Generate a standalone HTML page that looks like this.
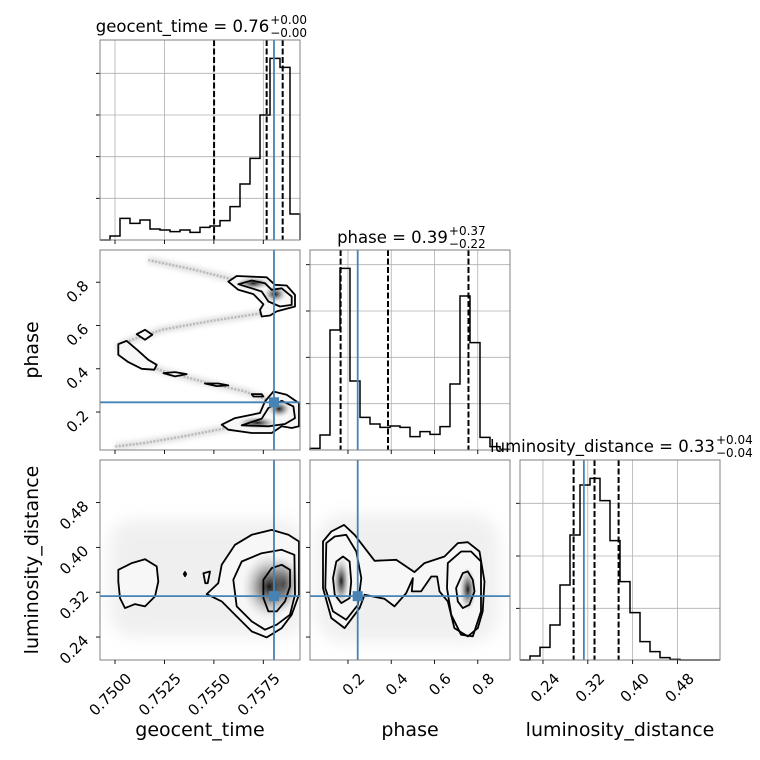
<!DOCTYPE html>
<html><head><meta charset="utf-8">
<style>
html,body{margin:0;padding:0;background:#fff;}
svg{display:block;font-family:"DejaVu Sans","Liberation Sans",sans-serif;}
</style></head>
<body>
<svg id="c" width="760" height="760" viewBox="0 0 760 760" xmlns="http://www.w3.org/2000/svg">
<defs>
<filter id="blur3" x="-20%" y="-20%" width="140%" height="140%"><feGaussianBlur stdDeviation="2.5"/></filter>
<filter id="blur6" x="-30%" y="-30%" width="160%" height="160%"><feGaussianBlur stdDeviation="8"/></filter>
<radialGradient id="core"><stop offset="0" stop-color="#000" stop-opacity="0.9"/><stop offset="0.45" stop-color="#666" stop-opacity="0.6"/><stop offset="1" stop-color="#ccc" stop-opacity="0"/></radialGradient>
<clipPath id="cl11"><rect x="100" y="250" width="200" height="200"/></clipPath>
<clipPath id="cl20"><rect x="100" y="460" width="200" height="200"/></clipPath>
<clipPath id="cl21"><rect x="310" y="460" width="200" height="200"/></clipPath>
</defs>
</svg>
<script>
// ---------- data ----------
const geoRange = [0.749241, 0.759356];
const phaseRange = [0.0245, 0.949];
const lumRange = [0.199, 0.556];
const geoTicks = [0.7500, 0.7525, 0.7550, 0.7575];
const geoTickLabels = ["0.7500", "0.7525", "0.7550", "0.7575"];
const phaseTicks = [0.2, 0.4, 0.6, 0.8];
const phaseTickLabels = ["0.2", "0.4", "0.6", "0.8"];
const lumTicks = [0.24, 0.32, 0.40, 0.48];
const lumTickLabels = ["0.24", "0.32", "0.40", "0.48"];
const geoCounts = [0,12,65,50,60,33,30,25,30,23,38,42,58,100,168,245,375,545,518,78];
const phaseCounts = [5,45,360,545,207,98,78,68,72,68,40,55,47,70,198,462,322,38,10,2];
const lumCounts = [0,12,38,105,225,375,525,545,478,358,235,142,55,25,7,2,0,0,0,0];
const histMax = 600;
const geoHistTicks = [125,250,375,500];
const phaseHistTicks = [139,278,417,556];
const lumHistTicks = [155,312,470];
const geoQuantiles = [0.75501, 0.75767, 0.75848];
const phaseQuantiles = [0.166, 0.385, 0.757];
const lumQuantiles = [0.2947, 0.332, 0.375];
const truthGeo = 0.75804, truthPhase = 0.245, truthLum = 0.313;

const ribbonGeo = [0.751686,0.754046,0.756238,0.757924,0.757418,0.754889,0.752360,0.750843,0.750169,0.750674,0.752360,0.754552,0.756575,0.757924,0.757081,0.755395,0.753203,0.751349,0.75];
const ribbonPhase = [0.903,0.857,0.806,0.7415,0.657,0.6215,0.580,0.534,0.503,0.449,0.391,0.338,0.295,0.249,0.149,0.1215,0.083,0.055,0.040];
const gpContours = [
 [[0.755732,0.803],[0.756154,0.829],[0.757671,0.823],[0.758093,0.788],[0.758683,0.785],[0.759104,0.7415],[0.759104,0.688],[0.758177,0.665],[0.757840,0.646],[0.757418,0.6415],[0.757334,0.672],[0.757503,0.698],[0.756997,0.745],[0.756238,0.765]],
 [[0.756238,0.791],[0.756913,0.808],[0.757587,0.795],[0.757924,0.765],[0.758430,0.772],[0.758936,0.734],[0.758936,0.695],[0.758346,0.688],[0.757756,0.711],[0.757418,0.757],[0.756913,0.772]],
 [[0.755395,0.1415],[0.756070,0.172],[0.757334,0.1955],[0.757587,0.249],[0.758009,0.295],[0.758683,0.280],[0.759307,0.2415],[0.759307,0.134],[0.758936,0.126],[0.758430,0.134],[0.757924,0.103],[0.756913,0.103],[0.755732,0.1185]],
 [[0.756407,0.1385],[0.757418,0.169],[0.757756,0.2185],[0.758430,0.252],[0.759020,0.226],[0.759104,0.172],[0.758599,0.1445],[0.757756,0.134]],
 [[0.750169,0.514],[0.750590,0.529],[0.751180,0.483],[0.751686,0.4415],[0.752107,0.4185],[0.751989,0.3955],[0.751349,0.400],[0.750674,0.431],[0.750169,0.4645]],
 [[0.751096,0.560],[0.751517,0.580],[0.751888,0.557],[0.751517,0.534]],
 [[0.752445,0.380],[0.753035,0.3846],[0.753625,0.3754],[0.753035,0.3646]],
 [[0.754552,0.332],[0.755226,0.332],[0.755732,0.323],[0.755142,0.320]],
 [[0.756913,0.283],[0.757418,0.283],[0.757503,0.272],[0.756997,0.272]]
];
const gpCores = [[0.7581,0.745,0.0006,0.04],[0.7583,0.215,0.0006,0.04],[0.7570,0.795,0.0009,0.03],[0.7572,0.15,0.001,0.03]];
const glContours = [
 [[0.750169,0.360],[0.750843,0.3719],[0.751517,0.379],[0.752107,0.366],[0.752192,0.3392],[0.752023,0.3125],[0.751517,0.2947],[0.751012,0.2988],[0.750506,0.2917],[0.750253,0.3095],[0.750169,0.3392]],
 [[0.754636,0.3167],[0.755226,0.3363],[0.755395,0.369],[0.756070,0.4046],[0.756913,0.4224],[0.757924,0.4313],[0.758767,0.4224],[0.759307,0.4105],[0.759307,0.3155],[0.758936,0.2798],[0.758430,0.256],[0.757671,0.2394],[0.756913,0.2501],[0.756070,0.2798],[0.755395,0.3036]],
 [[0.755985,0.3422],[0.756407,0.3749],[0.757418,0.3897],[0.758430,0.3957],[0.759071,0.3868],[0.759104,0.3155],[0.758852,0.2798],[0.758177,0.262],[0.757587,0.2531],[0.756913,0.2679],[0.756154,0.2947]],
 [[0.757503,0.3422],[0.757924,0.363],[0.758430,0.3689],[0.758852,0.36],[0.758852,0.3303],[0.758599,0.3036],[0.758177,0.2858],[0.757756,0.2858],[0.757503,0.3095]],
 [[0.754468,0.354],[0.754805,0.357],[0.754687,0.336],[0.754569,0.336]],
 [[0.753480,0.3523],[0.753541,0.3560],[0.753600,0.3523],[0.753541,0.3486]]
];
const glCores = [[0.7585,0.335,0.0009,0.05],[0.7578,0.33,0.0014,0.06]];
const plContours = [
 [[0.0846,0.4105],[0.123,0.4284],[0.1815,0.4402],[0.2308,0.4224],[0.323,0.3761],[0.423,0.3778],[0.5077,0.3559],[0.554,0.3719],[0.646,0.3838],[0.7077,0.4076],[0.754,0.4093],[0.808,0.3927],[0.831,0.3392],[0.823,0.2858],[0.80,0.256],[0.754,0.2412],[0.692,0.256],[0.6615,0.3036],[0.623,0.3214],[0.612,0.3481],[0.585,0.3481],[0.538,0.3214],[0.495,0.3214],[0.5,0.3452],[0.469,0.3184],[0.415,0.2947],[0.369,0.3083],[0.277,0.3155],[0.254,0.2917],[0.1846,0.256],[0.123,0.2739],[0.0846,0.3273]],
 [[0.1,0.4076],[0.1385,0.4194],[0.192,0.4224],[0.2385,0.3927],[0.2615,0.3452],[0.246,0.2976],[0.192,0.2709],[0.1308,0.2858],[0.0954,0.3273]],
 [[0.6615,0.3719],[0.723,0.3927],[0.769,0.3927],[0.815,0.3749],[0.815,0.2858],[0.777,0.2412],[0.723,0.2442],[0.677,0.2798],[0.658,0.3273]],
 [[0.1308,0.3452],[0.146,0.3749],[0.177,0.3838],[0.2077,0.3749],[0.215,0.3392],[0.2077,0.3095],[0.169,0.3006],[0.1385,0.3155]],
 [[0.70,0.3273],[0.731,0.3541],[0.754,0.3571],[0.777,0.3422],[0.785,0.3214],[0.7615,0.2976],[0.731,0.2917],[0.7077,0.3036]]
];
const plCores = [[0.169,0.34,0.04,0.045],[0.754,0.325,0.04,0.04]];

// ---------- scales ----------
const col = [100,310,520], row = [40,250,460], S = 200;
function lin(r, a, b){ return v => a + (v - r[0])/(r[1]-r[0])*(b-a); }
const X = [lin(geoRange,100,300), lin(phaseRange,310,510), lin(lumRange,520,720)];
const Y = [lin(geoRange,250,50), lin(phaseRange,450,250), lin(lumRange,660,460)];

const svg = document.getElementById('c');
const NS = 'http://www.w3.org/2000/svg';
function el(tag, attrs, parent){
  const e = document.createElementNS(NS, tag);
  for (const k in attrs) e.setAttribute(k, attrs[k]);
  (parent||svg).appendChild(e); return e;
}
function txt(s, attrs, parent){ const e = el('text', attrs, parent); e.textContent = s; return e; }

// ---------- histograms ----------
const hists = [
 {c:0, counts:geoCounts, ticks:geoTicks, hticks:geoHistTicks, q:geoQuantiles, truth:truthGeo, name:'geocent-time'},
 {c:1, counts:phaseCounts, ticks:phaseTicks, hticks:phaseHistTicks, q:phaseQuantiles, truth:truthPhase, name:'phase'},
 {c:2, counts:lumCounts, ticks:lumTicks, hticks:lumHistTicks, q:lumQuantiles, truth:truthLum, name:'luminosity-distance'}
];
const ranges = [geoRange, phaseRange, lumRange];
hists.forEach(h => {
  const x0 = col[h.c], y0 = row[h.c];
  const g = el('g', {});
  
  
  const hy = v => y0 + S - v/histMax*S;
  h.ticks.forEach(t => { const gl = el('line',{x1:X[h.c](t),x2:X[h.c](t),y1:y0,y2:y0+S,stroke:'#b0b0b0','stroke-width':0.8},g);
      });
  h.hticks.forEach(t => { const gl = el('line',{x1:x0,x2:x0+S,y1:hy(t),y2:hy(t),stroke:'#b0b0b0','stroke-width':0.8},g);
      });
  const r = ranges[h.c], n = h.counts.length, w = (r[1]-r[0])/n;
  let d = 'M' + X[h.c](r[0]) + ',' + hy(0);
  h.counts.forEach((cnt,i) => { const a = X[h.c](r[0]+i*w), b = X[h.c](r[0]+(i+1)*w);
    d += ' L' + a + ',' + hy(cnt) + ' L' + b + ',' + hy(cnt); });
  d += ' L' + X[h.c](r[1]) + ',' + hy(0);
  const p = el('path',{d:d,fill:'none',stroke:'#000','stroke-width':1.5},g);
   
  h.q.forEach(q => { const l = el('line',{x1:X[h.c](q),x2:X[h.c](q),y1:y0,y2:y0+S,stroke:'#000','stroke-width':2,'stroke-dasharray':'6,2.5'},g);
      });
  const tl = el('line',{x1:X[h.c](h.truth),x2:X[h.c](h.truth),y1:y0,y2:y0+S,stroke:'#4682b4','stroke-width':1.8},g);
   
  h.hticks.forEach(t => el('line',{x1:x0-4,x2:x0,y1:hy(t),y2:hy(t),stroke:'#000','stroke-width':0.9},g));
});

// ---------- 2D panels ----------
function poly(pts, fx, fy){ return 'M' + pts.map(p => fx(p[0]).toFixed(1)+','+fy(p[1]).toFixed(1)).join(' L') + ' Z'; }
function panel2d(c, r, clip, name, drawCloud, contours, cores, tx, ty){
  const g = el('g', {'clip-path':'url(#'+clip+')'});
  
  
  const fx = X[c], fy = Y[r];
  drawCloud(g, fx, fy);
  contours.forEach(ct => el('path',{d:poly(ct,fx,fy),fill:'#f7f7f7',stroke:'none'},g));
  cores.forEach(k => {
    const e = el('ellipse',{cx:fx(k[0]),cy:fy(k[1]),rx:Math.abs(fx(k[0]+k[2])-fx(k[0])),ry:Math.abs(fy(k[1]+k[3])-fy(k[1])),fill:'url(#core)'},g);
     
  });
  contours.forEach(ct => { const p = el('path',{d:poly(ct,fx,fy),fill:'none',stroke:'#000','stroke-width':1.8,'stroke-linejoin':'round'},g);
      });
  const vx = fx(tx), hy = fy(ty);
  const l1 = el('line',{x1:vx,x2:vx,y1:row[r],y2:row[r]+S,stroke:'#4682b4','stroke-width':1.8},g);
   
  const l2 = el('line',{x1:col[c],x2:col[c]+S,y1:hy,y2:hy,stroke:'#4682b4','stroke-width':1.8},g);
   
  const m = el('rect',{x:vx-5,y:hy-5,width:10,height:10,fill:'#4682b4'},g);
   
}
panel2d(0,1,'cl11','geocent-vs-phase-panel', (g,fx,fy) => {
  const d = 'M' + ribbonGeo.map((v,i)=>fx(v).toFixed(1)+','+fy(ribbonPhase[i]).toFixed(1)).join(' L');
  el('path',{d:d,fill:'none',stroke:'#aaa','stroke-width':7,'stroke-linejoin':'round','opacity':0.35,filter:'url(#blur3)'},g);
  el('path',{d:d,fill:'none',stroke:'#888','stroke-width':2.5,'stroke-linejoin':'round','stroke-dasharray':'2,1.5','opacity':0.45},g);
}, gpContours, gpCores, truthGeo, truthPhase);
panel2d(0,2,'cl20','geocent-vs-luminosity-panel', (g,fx,fy) => {
  el('rect',{x:fx(0.7497),y:fy(0.45),width:fx(0.7596)-fx(0.7497),height:fy(0.24)-fy(0.45),fill:'#d4d4d4',opacity:0.35,filter:'url(#blur6)',rx:25},g);
}, glContours, glCores, truthGeo, truthLum);
panel2d(1,2,'cl21','phase-vs-luminosity-panel', (g,fx,fy) => {
  el('rect',{x:fx(0.05),y:fy(0.46),width:fx(0.9)-fx(0.05),height:fy(0.23)-fy(0.46),fill:'#d4d4d4',opacity:0.35,filter:'url(#blur6)',rx:30},g);
}, plContours, plCores, truthPhase, truthLum);

// ---------- frames and ticks ----------
const panels = [[0,0],[0,1],[1,1],[0,2],[1,2],[2,2]];
panels.forEach(([c,r]) => {
  const f = el('rect',{x:col[c],y:row[r],width:S,height:S,fill:'none',stroke:'#808080','stroke-width':1});
   
});
const allTicks = [geoTicks, phaseTicks, lumTicks];
const allLabels = [geoTickLabels, phaseTickLabels, lumTickLabels];
panels.forEach(([c,r]) => {
  allTicks[c].forEach(t => el('line',{x1:X[c](t),x2:X[c](t),y1:row[r]+S,y2:row[r]+S+4,stroke:'#000','stroke-width':0.9}));
  if (c < r) allTicks[r].forEach(t => el('line',{x1:col[c]-4,x2:col[c],y1:Y[r](t),y2:Y[r](t),stroke:'#000','stroke-width':0.9}));
});
[0,1,2].forEach(c => allTicks[c].forEach((t,i) => {
  const x = X[c](t) + 14, y = 676;
  const e = txt(allLabels[c][i], {x:x,y:y,'text-anchor':'end','dominant-baseline':'central','font-size':15,transform:'rotate(-45 '+x+' '+y+')',fill:'#000'});
   
}));
[1,2].forEach(r => allTicks[r].forEach((t,i) => {
  const x = 86, y = Y[r](t) + 1;
  const e = txt(allLabels[r][i], {x:x,y:y,'text-anchor':'end','dominant-baseline':'central','font-size':15,transform:'rotate(-45 '+x+' '+y+')',fill:'#000'});
   
}));
const xt = [['geocent_time',200],['phase',410],['luminosity_distance',620]];
xt.forEach(([s,x]) => { const e = txt(s,{x:x,y:736,'text-anchor':'middle','font-size':19,fill:'#000'});
    });
[['phase',350],['luminosity_distance',560]].forEach(([s,y]) => { const e = txt(s,{x:38,y:y,'text-anchor':'middle','font-size':19,fill:'#000',transform:'rotate(-90 38 '+y+')'});
    });
const titles = [['geocent_time = 0.76','+0.00','\u22120.00',200,32],['phase = 0.39','+0.37','\u22120.22',410,243],['luminosity_distance = 0.33','+0.04','\u22120.04',620,452]];
titles.forEach(([m,up,dn,cx,y]) => {
  const g = el('g',{});
   
  const t = txt(m,{x:0,y:y,'font-size':16.5,fill:'#000'},g);
  const w = t.getComputedTextLength();
  const sw = 35, x0 = cx - (w + sw)/2;
  t.setAttribute('x', x0);
  txt(up,{x:x0+w+1,y:y-8,'font-size':12,fill:'#000'},g);
  txt(dn,{x:x0+w+1,y:y+5,'font-size':12,fill:'#000'},g);
});
</script>
</body></html>
